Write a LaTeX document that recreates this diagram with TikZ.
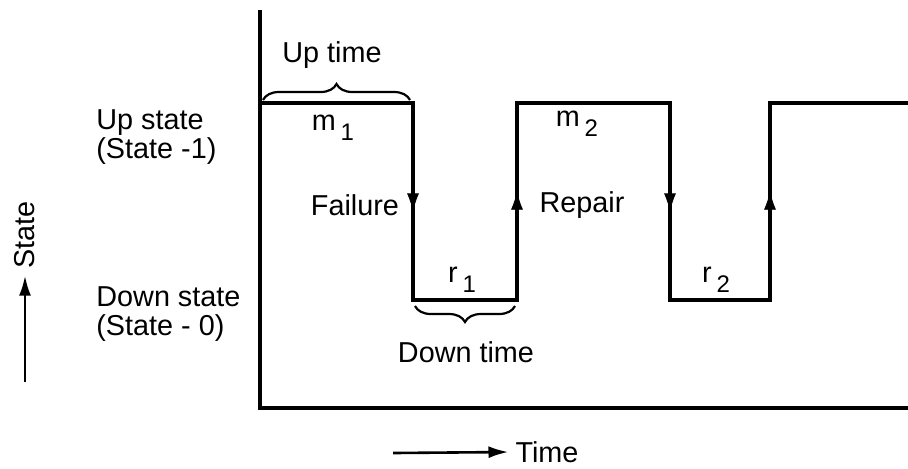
\documentclass[tikz,border=0pt]{standalone}
\usepackage{fontspec}
\setmainfont{Liberation Sans}
\usetikzlibrary{arrows.meta,decorations.pathreplacing,decorations.markings}
\newcommand{\sbs}[1]{\,\raisebox{-5pt}{\large #1}}
\tikzset{
  wave/.style={line width=1.7pt},
  down/.style={postaction={decorate},decoration={markings,
      mark=at position 0.55 with {\arrow{Latex[length=9pt,width=6pt]}}}},
  lbl/.style={anchor=west, inner sep=0pt, align=left, font=\Large\linespread{0.8}\selectfont}
}
\begin{document}
\begin{tikzpicture}[x=0.5pt, y=-0.5pt, font=\Large]
  \useasboundingbox (0,0) rectangle (908,468);
  % axes
  \draw[wave] (260,10) -- (260,408) -- (908,408);
  % levels
  \coordinate (u0) at (260,103);
  \coordinate (u1) at (413,103); \coordinate (d1) at (413,300);
  \coordinate (d2) at (517,300); \coordinate (u2) at (517,103);
  \coordinate (u3) at (670,103); \coordinate (d3) at (670,300);
  \coordinate (d4) at (770,300); \coordinate (u4) at (770,103);
  \coordinate (u5) at (908,103);
  \draw[wave, line join=miter] (u0) -- (u1) -- (d1) -- (d2) -- (u2) -- (u3) -- (d3) -- (d4) -- (u4) -- (u5);
  \foreach \a/\b in {u1/d1, d2/u2, u3/d3, d4/u4}
    \path[down] (\a) -- (\b);
  % braces
  \draw[line width=1.1pt, decorate, decoration={brace, amplitude=8pt}] (263,100) -- (410,100);
  \draw[line width=1.1pt, decorate, decoration={brace, amplitude=8pt, mirror}] (415,306) -- (515,306);
  % labels
  \node (uptime) at (332,55) {Up time};
  \node (dntime) at (466,352) {Down time};
  \node (m1) at (333,128) {m\sbs{1}};
  \node (m2) at (577,124) {m\sbs{2}};
  \node (r1) at (462,280) {r\sbs{1}};
  \node (r2) at (716,280) {r\sbs{2}};
  \node (fail) at (355,205) {Failure};
  \node (rep) at (582,205) {Repair};
  \node[lbl] (upst) at (96,137) {Up state\\(State -1)};
  \node[lbl] (dnst) at (96,314) {Down state\\(State - 0)};
  \node[rotate=90] (state) at (25,235) {State};
  \coordinate (s0) at (25,382);
  \draw[line width=1.3pt, -{Latex[length=10pt,width=6pt]}] (s0) -- (state.west);
  \node (time) at (547,452) {Time};
  \coordinate (t0) at (393,453);
  \draw[line width=1.3pt, -{Latex[length=10pt,width=6pt]}] (t0) -- (time.west);
\end{tikzpicture}
\end{document}
